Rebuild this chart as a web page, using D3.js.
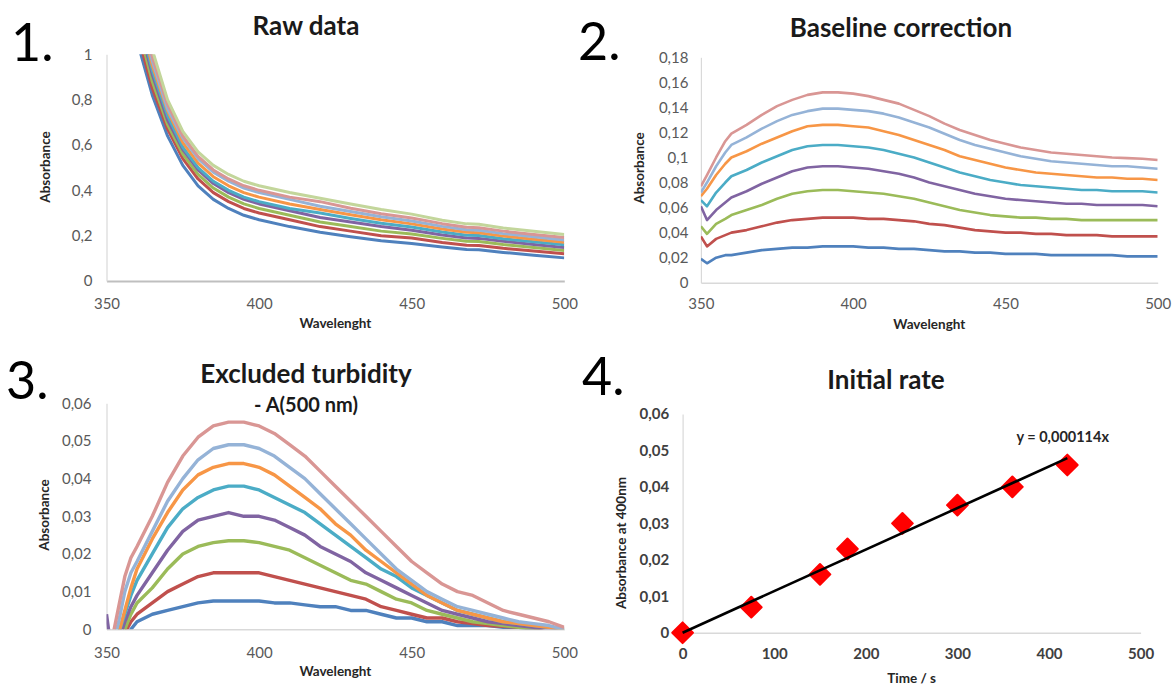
<!DOCTYPE html>
<html>
<head>
<meta charset="utf-8">
<script src="https://cdn.jsdelivr.net/npm/d3@7"></script>
<style>
body{margin:0;background:#fff;}
svg{font-family:Lato,"Open Sans",sans-serif;}
</style>
</head>
<body>
<svg id="chart" width="1176" height="687"></svg>
<script>

// series colours (excel 2010 style)
var palette = ["#4F81BD","#C0504D","#9BBB59","#8064A2","#4BACC6","#F79646","#95B3D7","#D99694","#C3D69B"];

// 1. raw data
var wl1 = [355,360,365,370,375,380,385,390,395,400,410,420,430,440,450,460,468,472,480,490,500];
var rawBlue      = [1.40,1.06,0.82,0.64,0.51,0.42,0.36,0.32,0.29,0.27,0.24,0.215,0.195,0.178,0.165,0.150,0.139,0.138,0.126,0.114,0.102];
var rawRed       = [1.45,1.10,0.85,0.67,0.54,0.45,0.39,0.35,0.32,0.30,0.27,0.24,0.22,0.20,0.19,0.17,0.158,0.157,0.144,0.132,0.12];
var rawGreen     = [1.50,1.14,0.88,0.69,0.56,0.47,0.41,0.37,0.34,0.32,0.29,0.26,0.24,0.22,0.207,0.188,0.175,0.174,0.161,0.148,0.135];
var rawPurple    = [1.54,1.17,0.91,0.71,0.58,0.49,0.43,0.39,0.36,0.34,0.31,0.28,0.26,0.24,0.224,0.203,0.19,0.188,0.175,0.161,0.148];
var rawCyan      = [1.57,1.19,0.93,0.73,0.59,0.50,0.44,0.40,0.37,0.35,0.32,0.30,0.276,0.255,0.238,0.216,0.202,0.201,0.186,0.173,0.16];
var rawOrange    = [1.60,1.22,0.95,0.75,0.61,0.52,0.46,0.42,0.39,0.37,0.34,0.315,0.292,0.27,0.252,0.229,0.215,0.213,0.198,0.184,0.171];
var rawLightBlue = [1.63,1.25,0.97,0.76,0.63,0.54,0.48,0.44,0.41,0.39,0.36,0.33,0.307,0.283,0.265,0.241,0.226,0.224,0.209,0.195,0.181];
var rawPink      = [1.66,1.27,0.99,0.78,0.64,0.55,0.49,0.45,0.42,0.40,0.37,0.35,0.321,0.297,0.278,0.253,0.237,0.235,0.22,0.205,0.192];
var rawLightGrn  = [1.70,1.30,1.02,0.80,0.66,0.57,0.51,0.47,0.44,0.42,0.39,0.365,0.34,0.315,0.295,0.268,0.252,0.25,0.234,0.219,0.205];

// 2. baseline correction
var wl2 = [350,352,355,358,360,365,370,375,380,385,390,395,400,405,410,415,420,425,430,435,440,445,450,455,460,465,470,475,480,485,490,495,500];
var baseBlue      = [.019,.0155,.020,.022,.022,.024,.026,.027,.028,.028,.029,.029,.029,.028,.028,.027,.027,.026,.025,.025,.024,.024,.023,.023,.023,.022,.022,.022,.022,.022,.021,.021,.021];
var baseRed       = [.037,.029,.035,.038,.040,.042,.045,.048,.050,.051,.052,.052,.052,.051,.051,.050,.049,.047,.046,.044,.042,.041,.040,.040,.039,.039,.038,.038,.038,.037,.037,.037,.037];
var baseGreen     = [.045,.039,.047,.051,.054,.058,.062,.067,.071,.073,.074,.074,.073,.072,.071,.069,.067,.064,.061,.058,.056,.054,.053,.052,.052,.051,.051,.050,.050,.050,.050,.050,.050];
var basePurple    = [.061,.050,.058,.064,.068,.073,.079,.084,.089,.092,.093,.093,.092,.091,.089,.087,.084,.080,.077,.074,.071,.069,.067,.066,.065,.064,.063,.063,.062,.062,.062,.062,.061];
var baseCyan      = [.066,.061,.072,.080,.085,.090,.096,.101,.106,.109,.110,.110,.109,.108,.106,.103,.100,.096,.092,.088,.085,.082,.080,.078,.077,.076,.075,.074,.074,.073,.073,.073,.072];
var baseOrange    = [.069,.075,.086,.095,.100,.105,.111,.116,.121,.125,.126,.126,.125,.124,.121,.118,.114,.110,.106,.101,.098,.095,.092,.090,.088,.087,.086,.085,.084,.084,.083,.083,.082];
var baseLightBlue = [.072,.080,.093,.104,.110,.116,.123,.129,.134,.137,.139,.139,.138,.137,.135,.132,.128,.124,.119,.114,.110,.107,.104,.101,.099,.097,.096,.095,.094,.093,.093,.092,.091];
var basePink      = [.077,.086,.100,.113,.119,.126,.134,.141,.146,.150,.152,.152,.151,.149,.146,.143,.138,.133,.127,.122,.118,.114,.111,.108,.106,.104,.103,.102,.101,.100,.0995,.099,.098];

// 3. excluded turbidity - A(500 nm)
var wl3 = [350,352,354,356,358,360,365,370,375,380,385,390,395,400,405,410,415,420,425,430,435,440,445,450,455,460,465,470,475,480,485,490,495,500];
var turbBlue      = [-.015,-.012,-.008,-.003,0,.002,.004,.005,.006,.007,.0075,.0075,.0075,.0075,.007,.007,.0065,.006,.006,.005,.005,.004,.003,.003,.002,.002,.001,.001,.001,.0005,.0005,0,-.001,-.001];
var turbRed       = [-.015,-.01,-.005,-.001,.002,.004,.007,.010,.012,.014,.015,.015,.015,.015,.014,.013,.012,.011,.010,.009,.008,.006,.005,.004,.003,.003,.002,.0015,.001,.0008,.0005,.0003,-.001,-.002];
var turbGreen     = [-.015,-.01,-.004,0,.004,.007,.011,.016,.020,.022,.023,.0235,.0235,.023,.022,.021,.019,.017,.015,.013,.012,.010,.008,.007,.005,.004,.003,.002,.0015,.001,.0005,0,-.001,-.001];
var turbPurple    = [.004,-.008,-.003,.002,.006,.009,.015,.021,.026,.029,.030,.031,.030,.030,.029,.027,.025,.022,.020,.018,.015,.013,.011,.009,.007,.005,.004,.003,.002,.0015,.001,.0005,0,-.001];
var turbCyan      = [-.012,-.006,-.001,.004,.009,.013,.020,.027,.032,.035,.037,.038,.038,.037,.035,.033,.031,.028,.025,.022,.019,.016,.014,.011,.009,.007,.005,.004,.003,.002,.0015,.001,.0005,0];
var turbOrange    = [-.012,-.006,-.001,.005,.011,.016,.024,.031,.037,.041,.043,.044,.044,.043,.041,.038,.035,.032,.028,.025,.021,.018,.015,.012,.009,.007,.005,.004,.003,.002,.0015,.001,.0005,0];
var turbLightBlue = [-.01,-.004,.002,.010,.015,.018,.026,.034,.040,.045,.048,.049,.049,.048,.046,.043,.040,.036,.032,.028,.024,.020,.016,.013,.010,.008,.006,.005,.004,.003,.002,.0015,.001,0];
var turbPink      = [-.01,-.002,.006,.014,.019,.022,.030,.039,.046,.051,.054,.055,.055,.054,.052,.049,.046,.042,.038,.034,.030,.026,.022,.018,.015,.012,.010,.009,.007,.005,.004,.003,.002,.0005];

// 4. initial rate
var timeS  = [0,75,150,180,240,300,360,420];
var abs400 = [0,0.007,0.016,0.023,0.030,0.035,0.040,0.046];
var slope  = 0.000114;

var svg = d3.select("#chart");
var loc = d3.formatLocale({decimal:",", thousands:".", grouping:[3], currency:["",""]});

function panel(o){
  var x = d3.scaleLinear().domain(o.xDomain).range([o.left, o.right]);
  var y = d3.scaleLinear().domain(o.yDomain).range([o.bottom, o.top]);
  var g = svg.append("g").attr("class","panel");

  var tickCol = o.bold ? "#404040" : "#595959";

  var xa = g.append("g").attr("transform","translate(0,"+o.bottom+")")
    .call(d3.axisBottom(x).tickValues(o.xTicks).tickSize(0).tickSizeOuter(0).tickPadding(o.xPad).tickFormat(d3.format("d")));
  var ya = g.append("g").attr("transform","translate("+o.left+",0)")
    .call(d3.axisLeft(y).tickValues(o.yTicks).tickSize(0).tickSizeOuter(0).tickPadding(o.yPad).tickFormat(loc.format(o.yFmt)));

  xa.select(".domain").attr("stroke", o.xAxisCol).attr("stroke-width", o.xAxisW);
  ya.select(".domain").attr("stroke", "#D9D9D9").attr("stroke-width", 1.2);
  g.selectAll(".tick text").attr("fill", tickCol).style("font-size","15px")
    .style("font-weight", o.bold ? "700" : "400").style("font-family","Lato");

  // titles
  g.append("text").attr("x", o.titleX).attr("y", o.titleY).attr("text-anchor","middle")
    .style("font-size","26px").style("font-weight","700").attr("fill","#1a1a1a").text(o.title);
  if(o.subtitle){
    g.append("text").attr("x", o.titleX).attr("y", o.subY).attr("text-anchor","middle")
      .style("font-size","20px").style("font-weight","700").attr("fill","#1a1a1a").text(o.subtitle);
  }
  g.append("text").attr("x", o.numX).attr("y", o.numY)
    .style("font-size","52px").attr("fill","#000").text(o.num);

  g.append("text").attr("x", (o.left+o.right)/2).attr("y", o.xLabY).attr("text-anchor","middle")
    .attr("dy","0.35em").style("font-size","13.5px").style("font-weight","700").attr("fill","#262626").text(o.xLabel);
  g.append("text").attr("transform","translate("+o.yLabX+","+o.yLabY+")rotate(-90)").attr("text-anchor","middle")
    .attr("dy","0.35em").style("font-size","13.5px").style("font-weight","700").attr("fill","#262626").text(o.yLabel);

  // clipping for the curves running outside the axis range
  svg.append("clipPath").attr("id", "clip"+o.num.replace(".",""))
    .append("rect").attr("x", o.left).attr("y", o.top).attr("width", o.right-o.left).attr("height", o.bottom-o.top);

  return {g:g, x:x, y:y, clip:"url(#clip"+o.num.replace(".","")+")"};
}

function drawSeries(p, wl, series, width){
  var line = d3.line()
    .x(function(d,i){ return p.x(wl[i]); })
    .y(function(d){ return p.y(d); });
  p.g.append("g").attr("clip-path", p.clip)
    .selectAll("path").data(series).enter().append("path")
    .attr("d", line)
    .attr("fill","none")
    .attr("stroke", function(d,i){ return palette[i]; })
    .attr("stroke-width", width)
    .attr("stroke-linejoin","round");
}

// panel 1
var p1 = panel({num:"1.", numX:11, numY:61, title:"Raw data", titleX:306, titleY:35,
  left:106.5, right:564.3, top:54.3, bottom:281,
  xDomain:[350,500], yDomain:[0,1], xTicks:[350,400,450,500], yTicks:[0,0.2,0.4,0.6,0.8,1],
  yFmt:".1~f", xPad:17, yPad:14, xAxisCol:"#BFBFBF", xAxisW:2,
  xLabel:"Wavelenght", xLabY:323, yLabel:"Absorbance", yLabX:45, yLabY:167});
drawSeries(p1, wl1, [rawBlue,rawRed,rawGreen,rawPurple,rawCyan,rawOrange,rawLightBlue,rawPink,rawLightGrn], 3);

// panel 2
var p2 = panel({num:"2.", numX:578, numY:60, title:"Baseline correction", titleX:901, titleY:37,
  left:700.9, right:1157.7, top:57.3, bottom:282.7,
  xDomain:[350,500], yDomain:[0,0.18], xTicks:[350,400,450,500], yTicks:d3.range(0,0.19,0.02),
  yFmt:".2~f", xPad:16, yPad:12.5, xAxisCol:"#D9D9D9", xAxisW:1.5,
  xLabel:"Wavelenght", xLabY:324, yLabel:"Absorbance", yLabX:639, yLabY:168});
drawSeries(p2, wl2, [baseBlue,baseRed,baseGreen,basePurple,baseCyan,baseOrange,baseLightBlue,basePink], 2.6);

// panel 3
var p3 = panel({num:"3.", numX:6, numY:399, title:"Excluded turbidity", subtitle:"- A(500 nm)",
  titleX:306, titleY:383, subY:412,
  left:106.5, right:564.3, top:403.3, bottom:629.3,
  xDomain:[350,500], yDomain:[0,0.06], xTicks:[350,400,450,500], yTicks:[0,0.01,0.02,0.03,0.04,0.05,0.06],
  yFmt:".2~f", xPad:18, yPad:15, xAxisCol:"#D9D9D9", xAxisW:1.5,
  xLabel:"Wavelenght", xLabY:671.5, yLabel:"Absorbance", yLabX:44, yLabY:515});
drawSeries(p3, wl3, [turbBlue,turbRed,turbGreen,turbPurple,turbCyan,turbOrange,turbLightBlue,turbPink], 3.4);

// panel 4
var p4 = panel({num:"4.", numX:582, numY:395, title:"Initial rate", titleX:886, titleY:389,
  left:682.6, right:1140.6, top:414, bottom:632.7, bold:true,
  xDomain:[0,500], yDomain:[0,0.06], xTicks:[0,100,200,300,400,500], yTicks:[0,0.01,0.02,0.03,0.04,0.05,0.06],
  yFmt:".2~f", xPad:16, yPad:13.5, xAxisCol:"#D9D9D9", xAxisW:1.5,
  xLabel:"Time / s", xLabY:678, yLabel:"Absorbance at 400nm", yLabX:621, yLabY:543});

p4.g.selectAll("path.pt").data(timeS).enter().append("path")
  .attr("class","pt")
  .attr("d", d3.symbol(d3.symbolSquare, 215))
  .attr("transform", function(d,i){ return "translate("+p4.x(d)+","+p4.y(abs400[i])+")rotate(45)"; })
  .attr("fill","#FF0000").attr("stroke","#FF0000").attr("stroke-width",2).attr("stroke-linejoin","round");

// linear trend through origin
var tEnd = d3.max(timeS);
p4.g.append("line")
  .attr("x1", p4.x(0)).attr("y1", p4.y(0))
  .attr("x2", p4.x(tEnd)).attr("y2", p4.y(slope*tEnd))
  .attr("stroke","#000").attr("stroke-width",2.6);

p4.g.append("text").attr("x", p4.x(415)).attr("y", p4.y(0.0523)).attr("text-anchor","middle")
  .style("font-size","14.5px").style("font-weight","700").attr("fill","#262626")
  .text("y = " + loc.format(".6f")(slope) + "x");

</script>
</body>
</html>
